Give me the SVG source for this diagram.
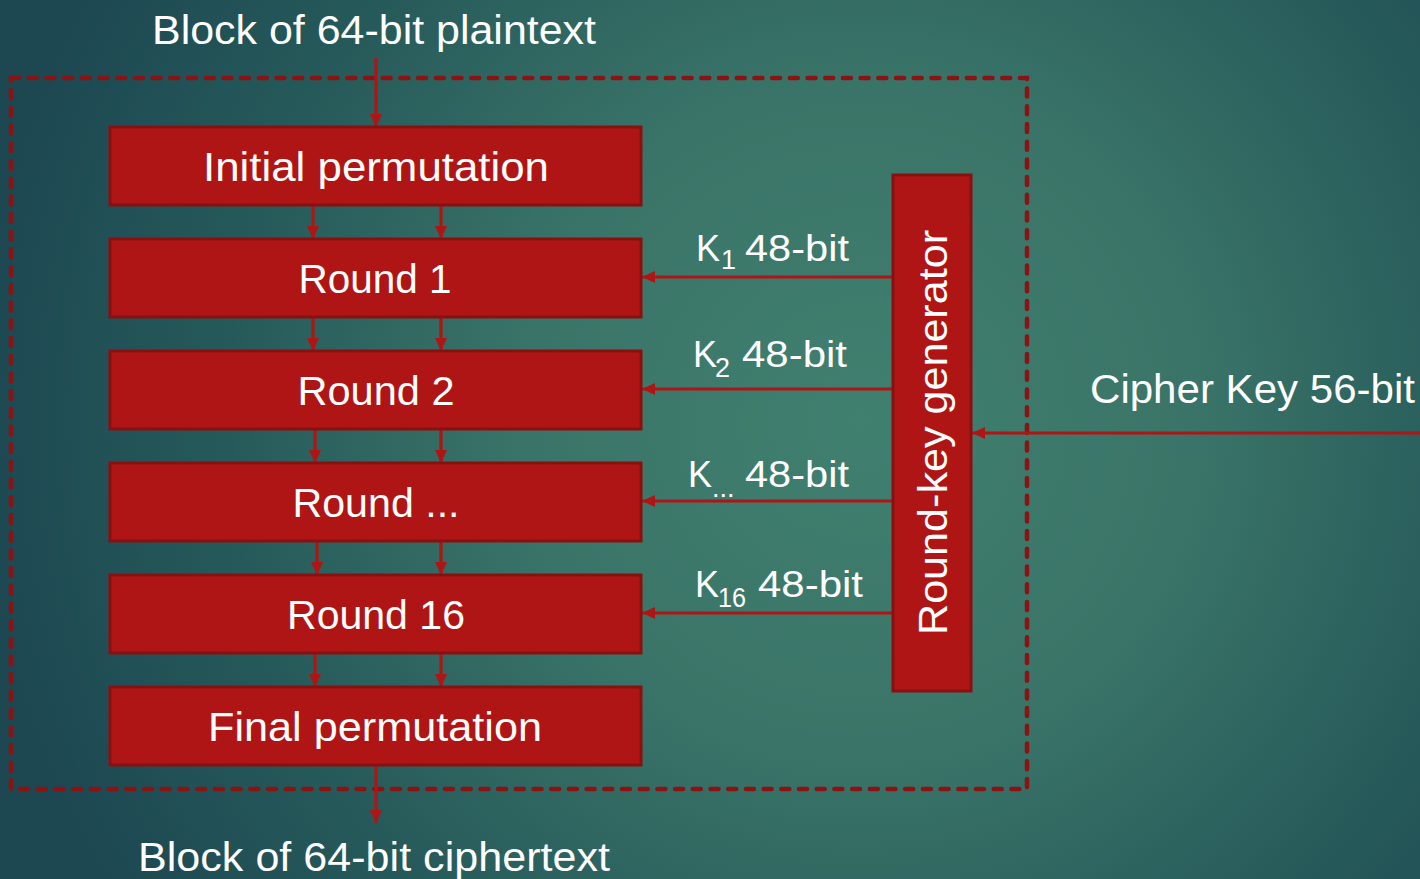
<svg xmlns="http://www.w3.org/2000/svg" width="1420" height="879" viewBox="0 0 1420 879">
  <defs>
    <radialGradient id="bg" gradientUnits="userSpaceOnUse" cx="860" cy="420" r="880">
      <stop offset="0" stop-color="#40806f"/>
      <stop offset="0.38" stop-color="#3a7468"/>
      <stop offset="0.72" stop-color="#265a5a"/>
      <stop offset="1" stop-color="#1d4852"/>
    </radialGradient>
    <marker id="arrow" markerUnits="userSpaceOnUse" markerWidth="13" markerHeight="12" refX="13" refY="6" orient="auto">
      <path d="M0,0 L13,6 L0,12 Z" fill="#b01515"/>
    </marker>
    <style>
      .box { fill: #b01515; stroke: #8a1010; stroke-width: 3; }
      .lbl { font-family: "Liberation Sans", Arial, sans-serif; fill: #ffffff; }
      .big { font-size: 40px; }
      .key { font-size: 36px; }
      .sub { font-size: 27px; }
      .wire { stroke: #b01515; stroke-width: 3.2; fill: none; marker-end: url(#arrow); }
      .frame { fill: none; stroke: #8b1313; stroke-width: 4.5; stroke-dasharray: 8 9.7; stroke-linecap: round; }
    </style>
  </defs>

  <rect width="1420" height="879" fill="url(#bg)"/>

  <!-- dashed enclosure of the cipher -->
  <rect class="frame" x="11" y="78" width="1016" height="711"/>

  <!-- connectors -->
  <g id="connectors">
    <line class="wire" x1="376" y1="58" x2="376" y2="127"/>
    <line class="wire" x1="313" y1="205" x2="313" y2="239"/>
    <line class="wire" x1="441" y1="205" x2="441" y2="239"/>
    <line class="wire" x1="313" y1="317" x2="313" y2="351"/>
    <line class="wire" x1="441" y1="317" x2="441" y2="351"/>
    <line class="wire" x1="315" y1="429" x2="315" y2="463"/>
    <line class="wire" x1="441" y1="429" x2="441" y2="463"/>
    <line class="wire" x1="317" y1="541" x2="317" y2="575"/>
    <line class="wire" x1="441" y1="541" x2="441" y2="575"/>
    <line class="wire" x1="315" y1="653" x2="315" y2="687"/>
    <line class="wire" x1="441" y1="653" x2="441" y2="687"/>
    <line class="wire" x1="376" y1="765" x2="376" y2="823"/>
    <line class="wire" x1="893" y1="277" x2="642" y2="277"/>
    <line class="wire" x1="893" y1="389" x2="642" y2="389"/>
    <line class="wire" x1="893" y1="501" x2="642" y2="501"/>
    <line class="wire" x1="893" y1="613" x2="642" y2="613"/>
    <line class="wire" x1="1420" y1="433" x2="972" y2="433"/>
  </g>

  <!-- key labels -->
  <g id="key-labels" class="lbl">
    <text class="key" x="696" y="261">K</text>
    <text class="sub" x="721" y="269">1</text>
    <text class="key" x="745" y="261" textLength="104" lengthAdjust="spacingAndGlyphs">48-bit</text>

    <text class="key" x="693" y="367">K</text>
    <text class="sub" x="715" y="377">2</text>
    <text class="key" x="742" y="367" textLength="105" lengthAdjust="spacingAndGlyphs">48-bit</text>

    <text class="key" x="688" y="487">K</text>
    <text class="sub" x="712" y="497">...</text>
    <text class="key" x="745" y="487" textLength="104" lengthAdjust="spacingAndGlyphs">48-bit</text>

    <text class="key" x="695" y="597">K</text>
    <text class="sub" x="718" y="607" textLength="28" lengthAdjust="spacingAndGlyphs">16</text>
    <text class="key" x="758" y="597" textLength="105" lengthAdjust="spacingAndGlyphs">48-bit</text>
  </g>

  <!-- outside labels -->
  <text id="plaintext" class="lbl big" x="374" y="44" text-anchor="middle" textLength="444" lengthAdjust="spacingAndGlyphs">Block of 64-bit plaintext</text>
  <text id="ciphertext" class="lbl big" x="374" y="871" text-anchor="middle" textLength="472" lengthAdjust="spacingAndGlyphs">Block of 64-bit ciphertext</text>
  <text id="cipher-key" class="lbl big" x="1090" y="403" textLength="325" lengthAdjust="spacingAndGlyphs">Cipher Key 56-bit</text>

  <!-- cipher stages -->
  <g id="initial-permutation">
    <rect class="box" x="110" y="127" width="531" height="78"/>
    <text class="lbl big" x="376" y="181" text-anchor="middle" textLength="346" lengthAdjust="spacingAndGlyphs">Initial permutation</text>
  </g>
  <g id="round-1">
    <rect class="box" x="110" y="239" width="531" height="78"/>
    <text class="lbl big" x="375" y="293" text-anchor="middle" textLength="153" lengthAdjust="spacingAndGlyphs">Round 1</text>
  </g>
  <g id="round-2">
    <rect class="box" x="110" y="351" width="531" height="78"/>
    <text class="lbl big" x="376" y="405" text-anchor="middle" textLength="157" lengthAdjust="spacingAndGlyphs">Round 2</text>
  </g>
  <g id="round-n">
    <rect class="box" x="110" y="463" width="531" height="78"/>
    <text class="lbl big" x="376" y="517" text-anchor="middle" textLength="167" lengthAdjust="spacingAndGlyphs">Round ...</text>
  </g>
  <g id="round-16">
    <rect class="box" x="110" y="575" width="531" height="78"/>
    <text class="lbl big" x="376" y="629" text-anchor="middle" textLength="178" lengthAdjust="spacingAndGlyphs">Round 16</text>
  </g>
  <g id="final-permutation">
    <rect class="box" x="110" y="687" width="531" height="78"/>
    <text class="lbl big" x="375" y="741" text-anchor="middle" textLength="334" lengthAdjust="spacingAndGlyphs">Final permutation</text>
  </g>
  <g id="round-key-generator">
    <rect class="box" x="893" y="175" width="78" height="516"/>
    <text class="lbl big" transform="translate(947,432.5) rotate(-90)" x="0" y="0" text-anchor="middle" textLength="405" lengthAdjust="spacingAndGlyphs">Round-key generator</text>
  </g>
</svg>
